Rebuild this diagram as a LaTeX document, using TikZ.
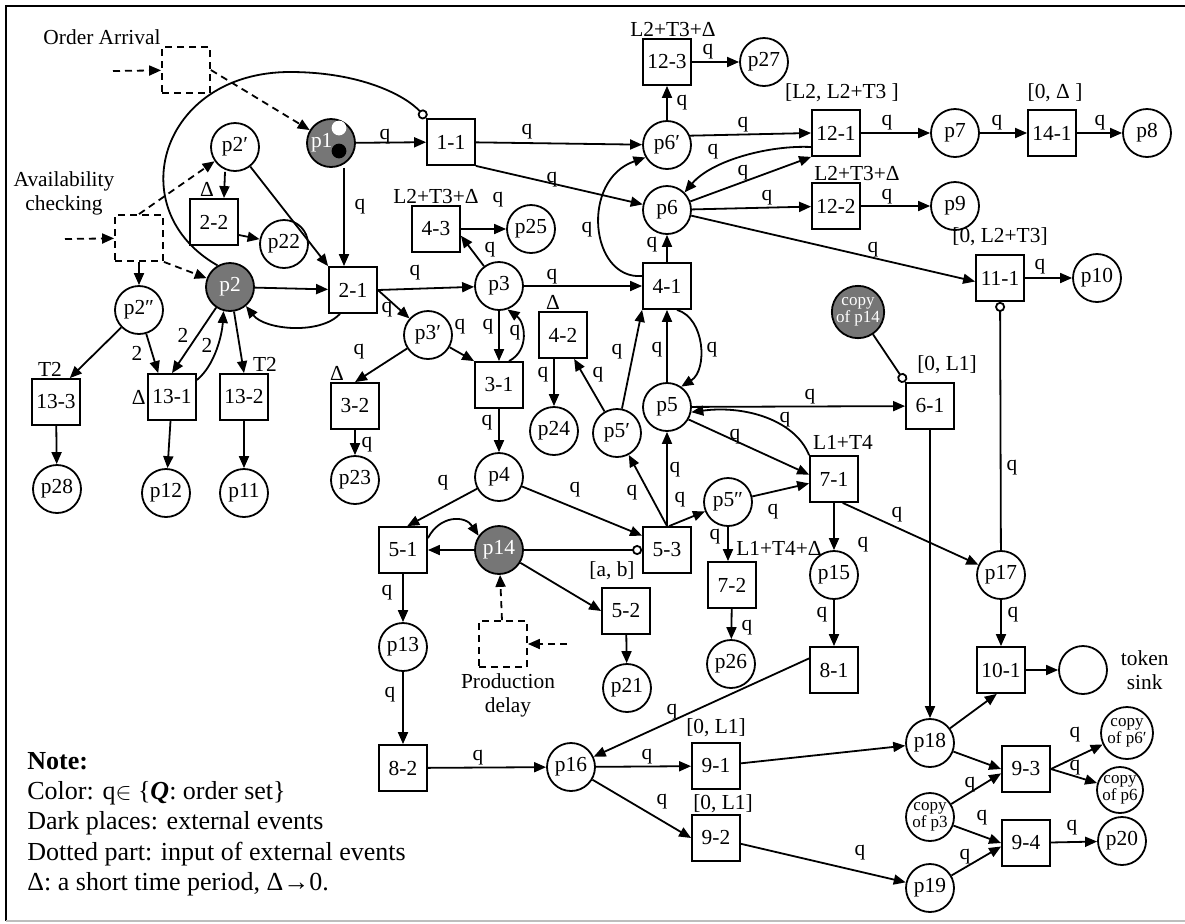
\documentclass[tikz,border=0pt]{standalone}
\usepackage{fontspec}
\setmainfont{Liberation Serif}
\usepackage{tikz}
\usetikzlibrary{arrows.meta,positioning,calc}
\definecolor{ink}{HTML}{000000}
\definecolor{shade}{HTML}{767676}
\definecolor{rule}{HTML}{BDBDBD}

\begin{document}
\begin{tikzpicture}[
  x=0.5pt, y=-0.5pt,
  every node/.style={font=\fontsize{10.7}{11.5}\selectfont},
  place/.style={circle, draw=ink, line width=0.9pt, minimum size=24pt, inner sep=0pt},
  event/.style={place, fill=shade, text=white},
  copyof/.style={place, font=\fontsize{8.5}{8.5}\selectfont, align=center},
  trans/.style={rectangle, draw=ink, line width=0.9pt, minimum width=24pt, minimum height=23pt, inner sep=0pt},
  input/.style={trans, dash pattern=on 3.5pt off 2.5pt},
  flow/.style={line width=0.9pt, draw=ink, -{Triangle[length=6pt,width=5pt]}},
  extern/.style={flow, dash pattern=on 3.5pt off 2.5pt},
  inhibit/.style={line width=0.9pt, draw=ink, -{Circle[open,length=5pt]}},
  lbl/.style={inner sep=0.5pt},
  timing/.style={inner sep=0.5pt},
  twoline/.style={align=center, font=\fontsize{10.7}{12}\selectfont},
]
\useasboundingbox (0,0) rectangle (1185,923);
\draw[ink, line width=0.9pt] (6,921) -- (6,6) -- (1185,6);
\draw[rule, line width=0.9pt] (6,921) -- (1185,921);

% external inputs
\node[input] (OA) at (186,70) {};
\node[input] (AC) at (139,238) {};
\node[input] (PD) at (503,644) {};
\node (oalbl) at (102,37) {Order Arrival};
\node[twoline] (aclbl) at (64,193) {Availability\\checking};
\node[twoline] (pdlbl) at (508,695) {Production\\delay};
\coordinate (oain) at (113,71);
\coordinate (acin) at (65,239);
\coordinate (pdin) at (567,644);

% places
\node[event] (p1) at (331,143) {\hbox to 20pt{p1\hfil}};
\fill[white] (339,128) circle (3.7pt);
\fill[ink] (339,151) circle (3.7pt);
\node[place] (p2a) at (235,147) {p2′};
\node[place] (p22) at (284,244) {p22};
\node[event] (p2) at (230,287) {p2};
\node[place] (p2b) at (139,310) {p2″};
\node[place] (p28) at (57,489) {p28};
\node[place] (p12) at (166,493) {p12};
\node[place] (p11) at (244,493) {p11};
\node[place] (p3) at (499,286) {p3};
\node[place] (p3a) at (428,335) {p3′};
\node[place] (p23) at (355,480) {p23};
\node[place] (p25) at (531,229) {p25};
\node[place] (p24) at (554,431) {p24};
\node[place] (p4) at (499,477) {p4};
\node[event] (p14) at (499,550) {p14};
\node[place] (p13) at (403,647) {p13};
\node[place] (p21) at (627,688) {p21};
\node[place] (p16) at (571,767) {p16};
\node[place] (p6a) at (667,145) {p6′};
\node[place] (p6) at (667,210) {p6};
\node[place] (p27) at (764,62) {p27};
\node[place] (p5) at (667,407) {p5};
\node[place] (p5a) at (617,433) {p5′};
\node[place] (p5b) at (728,502) {p5″};
\node[place] (p26) at (731,664) {p26};
\node[place] (p7) at (955,133) {p7};
\node[place] (p8) at (1147,133) {p8};
\node[place] (p9) at (955,206) {p9};
\node[place] (p10) at (1097,278) {p10};
\node[copyof, fill=shade, text=white, minimum size=25pt] (cp14) at (858,312) {copy\\of p14};
\node[place] (p15) at (834,575) {p15};
\node[place] (p17) at (1001,575) {p17};
\node[place] (sink) at (1083,670) {};
\node[twoline, right=3pt of sink] (sinklbl) {token\\sink};
\node[place] (p18) at (930,743) {p18};
\node[place] (p19) at (930,888) {p19};
\node[copyof] (cp3) at (930,817) {copy\\of p3};
\node[copyof, minimum size=26pt] (cp6a) at (1127,733) {copy\\of p6′};
\node[copyof, minimum size=23pt] (cp6) at (1120,790) {copy\\of p6};
\node[place] (p20) at (1122,841) {p20};

% transitions
\node[trans] (t11) at (451,142) {1-1};
\node[trans, label={[timing, xshift=-3.5pt]above:Δ}] (t22) at (214,222) {2-2};
\node[trans] (t21) at (353,290) {2-1};
\node[trans, label={[timing, xshift=-3pt]above:T2}] (t133) at (56,402) {13-3};
\node[trans, label={[timing]left:Δ}] (t131) at (172,397) {13-1};
\node[trans, label={[timing, xshift=10.5pt]above:T2}] (t132) at (244,397) {13-2};
\node[trans, label={[timing, xshift=-9pt]above:Δ}] (t32) at (355,406) {3-2};
\node[trans] (t31) at (499,385) {3-1};
\node[trans, label={[timing]above:L2+T3+Δ}] (t43) at (436,229) {4-3};
\node[trans, label={[timing, xshift=-5pt]above:Δ}] (t42) at (563,335) {4-2};
\node[trans] (t41) at (667,286) {4-1};
\node[trans, label={[timing, xshift=3pt]above:L2+T3+Δ}] (t123) at (667,62) {12-3};
\node[trans, label={[timing, xshift=3pt, yshift=3pt]above:{[L2, L2+T3 ]}}] (t121) at (836,133) {12-1};
\node[trans, label={[timing, xshift=10.5pt]above:L2+T3+Δ}] (t122) at (836,206) {12-2};
\node[trans, label={[timing, xshift=1.5pt, yshift=3pt]above:{[0, Δ ]}}] (t141) at (1052,133) {14-1};
\node[trans, label={[timing, yshift=3.5pt]above:{[0, L2+T3]}}] (t111) at (1000,278) {11-1};
\node[trans, label={[timing, xshift=8.5pt, yshift=3.5pt]above:{[0, L1]}}] (t61) at (930,406) {6-1};
\node[trans, label={[timing, xshift=4.5pt, yshift=2pt]above:L1+T4}] (t71) at (834,479) {7-1};
\node[trans, label={[timing, xshift=23.5pt, yshift=2pt]above:L1+T4+Δ}] (t72) at (732,585) {7-2};
\node[trans] (t51) at (403,550) {5-1};
\node[trans] (t53) at (667,550) {5-3};
\node[trans, label={[timing, xshift=-7pt, yshift=3pt]above:{[a, b]}}] (t52) at (626,611) {5-2};
\node[trans] (t81) at (834,670) {8-1};
\node[trans] (t82) at (403,768) {8-2};
\node[trans] (t101) at (1001,670) {10-1};
\node[trans, label={[timing, yshift=2pt]above:{[0, L1]}}] (t91) at (716,766) {9-1};
\node[trans, label={[timing, xshift=3.5pt]above:{[0, L1]}}] (t92) at (716,838) {9-2};
\node[trans] (t93) at (1026,769) {9-3};
\node[trans] (t94) at (1026,843) {9-4};

% dotted part
\draw[extern] (oain) -- (OA);
\draw[extern] (OA.east) -- (p1);
\draw[extern] (acin) -- (AC);
\draw[extern] (AC.north) -- (p2a);
\draw[extern] (AC.south east) -- (p2);
\draw[flow] (AC) -- (p2b);
\draw[extern] (pdin) -- (PD);
\draw[extern] (PD) -- (p14);

% order arrival and availability
\draw[flow] (p1) -- (t11) node[lbl] at (385,137) {q};
\draw[flow] ([xshift=6.5pt]p1.south) -- ([xshift=-4.5pt]t21.north) node[lbl] at (360,207) {q};
\draw[inhibit] (p2.120) .. controls (120,210) and (160,72) .. (290,72)
   .. controls (360,72) and (405,95) .. (t11.north west);
\draw[flow] ([xshift=-5pt]p2a.south) -- ([xshift=5pt]t22.north);
\draw[flow] ([yshift=-6.5pt]t22.east) -- (p22);
\draw[flow] (p2a) -- (t21.north west);
\draw[flow] (p2) -- (t21);
\draw[flow] ([xshift=-6.5pt]t21.south) .. controls (320,335) and (265,330) .. (p2.-50);
\draw[flow] (p2b) -- (t133.60);
\draw[flow] (p2b) -- (t131.120) node[lbl] at (137,353) {2};
\draw[flow] (p2) -- (t131.north) node[lbl] at (183,335) {2};
\draw[flow] ([yshift=8.5pt]t131.east) .. controls (215,365) and (222,335) .. (p2.-105)
   node[lbl] at (207,345) {2};
\draw[flow] (p2) -- (t132.north);
\draw[flow] (t133) -- (p28);
\draw[flow] (t131) -- (p12);
\draw[flow] (t132) -- (p11);

% p3 side
\draw[flow] (t21.east) -- (p3) node[lbl] at (415,273) {q};
\draw[flow] (t21.east) -- (p3a) node[lbl] at (387,310) {q};
\draw[flow] (p3a) -- (t32.north) node[lbl] at (359,352) {q};
\draw[flow] (t32) -- (p23) node[lbl] at (367,445) {q};
\draw[flow] (p3a) -- (t31.north west) node[lbl] at (460,327) {q};
\draw[flow] (p3) -- (t31) node[lbl] at (488,327) {q};
\draw[flow] ([xshift=5pt]t31.north) .. controls (530,350) and (525,322) .. (p3.-70)
   node[lbl] at (515,333) {q};
\draw[flow] (t31) -- (p4) node[lbl] at (487,423) {q};
\draw[flow] (p3) -- (t43.-15) node[lbl] at (490,250) {q};
\draw[flow] (t43) -- (p25) node[lbl] at (498,200) {q};
\draw[flow] (p3) -- (t41) node[lbl] at (552,277) {q};

% p5 and p6 side
\draw[flow] (p5a) -- (t42.-65) node[lbl] at (598,375) {q};
\draw[flow] (t42.south -| p24) -- (p24) node[lbl] at (543,375) {q};
\draw[flow] (p5a) -- (t41.south west) node[lbl] at (617,352) {q};
\draw[flow] (t41) -- (p6) node[lbl] at (652,245) {q};
\draw[flow] ([yshift=5pt]t41.west) .. controls (590,280) and (580,180) .. (p6a.210)
   node[lbl] at (587,230) {q};
\draw[flow] (p6a) -- (t123) node[lbl] at (682,103) {q};
\draw[flow] (t123) -- (p27) node[lbl] at (708,52) {q};
\draw[flow] (t11) -- (p6a) node[lbl] at (527,132) {q};
\draw[flow] (t11.south east) -- (p6) node[lbl] at (552,180) {q};
\draw[flow] (p6a.22) -- (t121.west) node[lbl] at (743,125) {q};
\draw[flow] ([yshift=-7pt]t121.west) .. controls (770,145) and (712,160) .. (p6.45)
   node[lbl] at (713,152) {q};
\draw[flow] (p6) -- (t121.south west) node[lbl] at (743,173) {q};
\draw[flow] (p6) -- (t122) node[lbl] at (767,198) {q};
\draw[flow] (t121) -- (p7) node[lbl] at (887,123) {q};
\draw[flow] (p7) -- (t141) node[lbl] at (997,123) {q};
\draw[flow] (t141) -- (p8) node[lbl] at (1100,123) {q};
\draw[flow] (t122) -- (p9) node[lbl] at (887,197) {q};
\draw[flow] (p6) -- (t111.-172) node[lbl] at (873,250) {q};
\draw[flow] (t111) -- (p10) node[lbl] at (1040,267) {q};
\draw[inhibit] (p17) -- (t111) node[lbl] at (1012,468) {q};
\draw[inhibit] (cp14) -- (t61.north west);
\draw[flow] (p5) -- (t41) node[lbl] at (657,350) {q};
\draw[flow] ([xshift=5pt]t41.south) .. controls (705,318) and (708,370) .. (p5.55)
   node[lbl] at (712,350) {q};
\draw[flow] (p5) -- (t61) node[lbl] at (810,397) {q};
\draw[flow] (p5.-30) -- (t71.170) node[lbl] at (735,437) {q};
\draw[flow] (t71.north west) .. controls (795,420) and (745,405) .. (p5.-12)
   node[lbl] at (785,420) {q};
\draw[flow] (p5b) -- (t71.190) node[lbl] at (773,512) {q};
\draw[flow] (t71) -- (p15) node[lbl] at (863,545) {q};
\draw[flow] (t71.-70) -- (p17) node[lbl] at (897,515) {q};
\draw[flow] (t61) -- (p18);
\draw[flow] (p17) -- (t101) node[lbl] at (1013,615) {q};
\draw[flow] (t101) -- (sink);
\draw[flow] (p15) -- (t81) node[lbl] at (822,615) {q};
\draw[flow] (t81.155) -- (p16) node[lbl] at (672,712) {q};

% production part
\draw[flow] (p4) -- (t51.80) node[lbl] at (443,483) {q};
\draw[flow] (p4) -- (t53.150) node[lbl] at (575,490) {q};
\draw[flow] (p14) -- (t51);
\draw[flow] ([yshift=-6pt]t51.north east) .. controls (440,515) and (465,515) .. (p14.145);
\draw[inhibit] (p14) -- (t53);
\draw[flow] (p14) -- (t52.west);
\draw[flow] (t52) -- (p21);
\draw[flow] (t51) -- (p13) node[lbl] at (387,593) {q};
\draw[flow] (p13) -- (t82) node[lbl] at (390,695) {q};
\draw[flow] (t53) -- (p5) node[lbl] at (675,470) {q};
\draw[flow] (t53.north) -- (p5a) node[lbl] at (632,493) {q};
\draw[flow] ([xshift=1pt]t53.north) -- (p5b) node[lbl] at (680,500) {q};
\draw[flow] (p5b) -- (p5b |- t72.north) node[lbl] at (715,537) {q};
\draw[flow] (t72) -- (p26) node[lbl] at (747,628) {q};

% delivery part
\draw[flow] (t82) -- (p16) node[lbl] at (478,758) {q};
\draw[flow] (p16) -- (t91) node[lbl] at (647,757) {q};
\draw[flow] (p16) -- (t92.west) node[lbl] at (662,802) {q};
\draw[flow] (t91) -- (p18);
\draw[flow] (t92) -- (p19) node[lbl] at (860,853) {q};
\draw[flow] (p18) -- (t101.-100);
\draw[flow] (p18) -- (t93.west);
\draw[flow] (cp3) -- (t93.-170) node[lbl] at (970,785) {q};
\draw[flow] (cp3) -- (t94.west) node[lbl] at (982,818) {q};
\draw[flow] (p19) -- (t94.-172) node[lbl] at (965,857) {q};
\draw[flow] (t93.east) -- (cp6a) node[lbl] at (1075,735) {q};
\draw[flow] (t93.east) -- (cp6) node[lbl] at (1075,768) {q};
\draw[flow] (t94) -- (p20) node[lbl] at (1072,828) {q};

% note
\node[align=left, anchor=north west, inner sep=0pt, font=\fontsize{13}{15.1}\selectfont] (note) at (27,752)
  {\textbf{Note:}\\
   Color: q$\in$\ \{\textbf{\textit{Q}}: order set\}\\
   Dark places: external events\\
   Dotted part: input of external events\\
   Δ: a short time period, Δ→0.};
\end{tikzpicture}
\end{document}
